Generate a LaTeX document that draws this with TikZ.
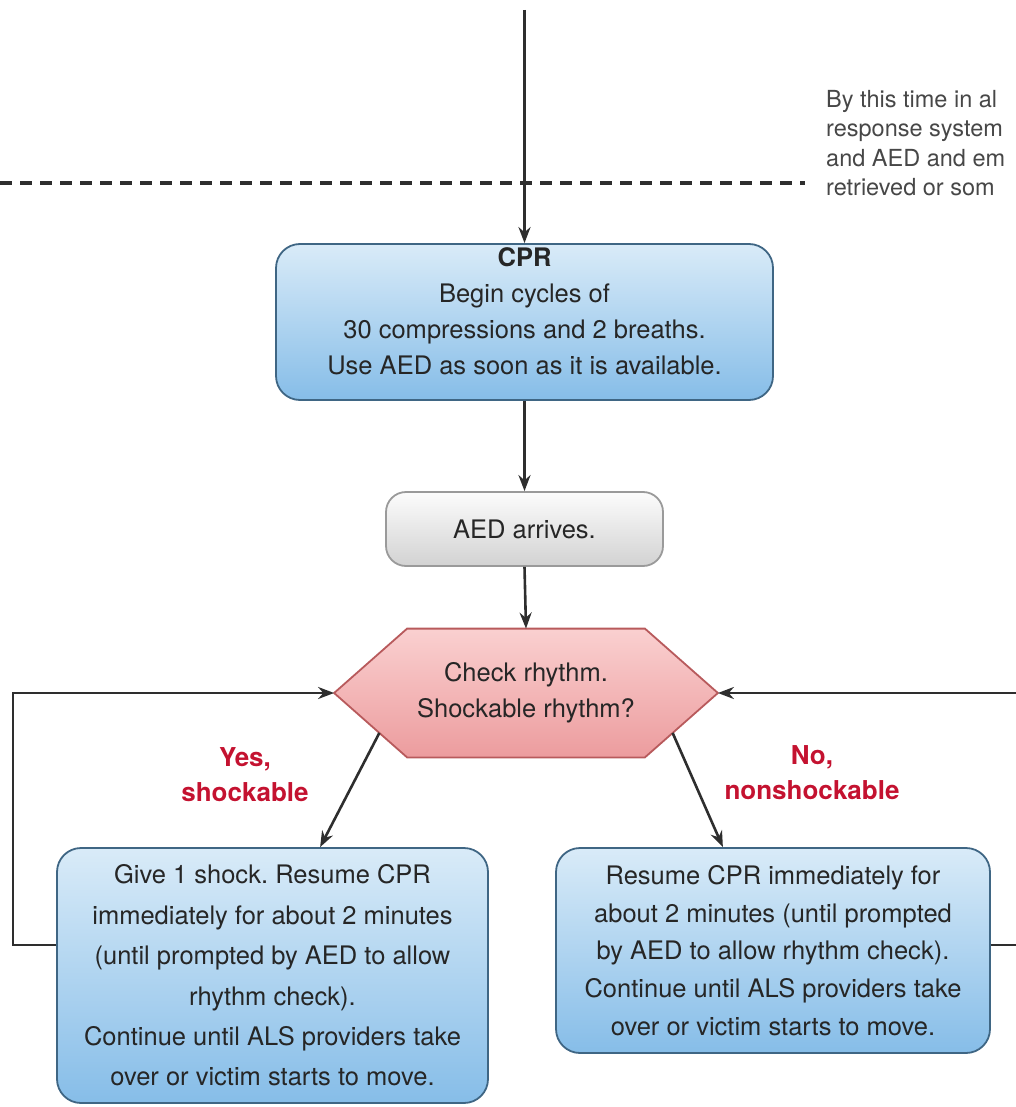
\documentclass[tikz,border=0pt]{standalone}
\usepackage{fontspec}
\setmainfont{TeX Gyre Heros}
\frenchspacing
\usetikzlibrary{arrows.meta,calc,backgrounds}
\definecolor{txtgray}{HTML}{262626}
\definecolor{linegray}{HTML}{2E2E2E}
\definecolor{bluetop}{HTML}{D9EBF8}
\definecolor{bluebot}{HTML}{86BDE8}
\definecolor{blueedge}{HTML}{3F6684}
\definecolor{graytop}{HTML}{FCFCFC}
\definecolor{graybot}{HTML}{D2D2D2}
\definecolor{grayedge}{HTML}{9A9A9A}
\definecolor{pinktop}{HTML}{FAD0D0}
\definecolor{pinkbot}{HTML}{EC9C9E}
\definecolor{pinkedge}{HTML}{B85A5C}
\definecolor{labelred}{HTML}{C41230}
\begin{document}
\begin{tikzpicture}[x=1pt,y=-1pt,
  line/.style={draw=linegray,line width=2.6pt},
  arr/.style={line,-{Stealth[length=16pt,width=12pt]}},
  box/.style={align=center,text=txtgray,line width=1.8pt},
  bluebox/.style={box,draw=blueedge,rounded corners=24pt,top color=bluetop,bottom color=bluebot},
  graybox/.style={box,draw=grayedge,rounded corners=20pt,top color=graytop,bottom color=graybot},
  hexbox/.style={draw=pinkedge,line width=1.8pt,top color=pinktop,bottom color=pinkbot},
  redlabel/.style={align=center,text=labelred,font=\bfseries\fontsize{26}{35}\selectfont}]
  \useasboundingbox (0,0) rectangle (1016,1107);
  \clip (0,0) rectangle (1016,1107);
  % top of the chart
  \coordinate (top) at (524.5,10);
  \coordinate (dashL) at (0,183);
  \coordinate (dashR) at (805,183);
  \draw[draw=linegray,line width=3.2pt,dash pattern=on 12pt off 8pt] (dashL) -- (dashR);
  \node[anchor=north west,align=left,text=txtgray!85,inner sep=0pt,
        font=\fontsize{23.5}{29.5}\selectfont] (note) at (826,90)
    {By this time in al\\response system\\and AED and em\\retrieved or som};
  \node[bluebox,minimum width=497pt,minimum height=156pt,
        font=\fontsize{25.5}{36}\selectfont] (cpr) at (524.5,322)
    {{\bfseries CPR}\\Begin cycles of\\30 compressions and 2 breaths.\\Use AED as soon as it is available.\\[-14pt]\mbox{}};
  \node[graybox,minimum width=277pt,minimum height=74pt,
        font=\fontsize{25.5}{36}\selectfont] (aed) at (524.5,529) {AED arrives.};
  % rhythm check
  \node[box,minimum width=236pt,minimum height=127pt,
        font=\fontsize{25.5}{36}\selectfont] (chk) at (526,693)
    {Check rhythm.\\Shockable rhythm?};
  \coordinate (chkL) at ($(chk.west)+(-73,0)$);
  \coordinate (chkR) at ($(chk.east)+(73,0)$);
  \begin{scope}[on background layer]
    \path[hexbox] (chkL) -- (chk.north west) -- (chk.north east) -- (chkR)
      -- (chk.south east) -- (chk.south west) -- cycle;
  \end{scope}
  \coordinate (chkSW) at ($(chkL)!0.62!(chk.south west)$);
  \coordinate (chkSE) at ($(chkR)!0.62!(chk.south east)$);
  % the two branches
  \node[bluebox,minimum width=431pt,minimum height=255pt,
        font=\fontsize{25.5}{40.4}\selectfont] (shock) at (272.5,975.5)
    {Give 1 shock. Resume CPR\\immediately for about 2 minutes\\(until prompted by AED to allow\\rhythm check).\\Continue until ALS providers take\\over or victim starts to move.};
  \node[bluebox,minimum width=434pt,minimum height=205pt,
        font=\fontsize{25.5}{37.8}\selectfont] (noshock) at (773,950.5)
    {Resume CPR immediately for\\about 2 minutes (until prompted\\by AED to allow rhythm check).\\Continue until ALS providers take\\over or victim starts to move.};
  \node[redlabel] (yes) at (245,775) {Yes,\\shockable};
  \node[redlabel] (no) at (812,773) {No,\\nonshockable};
  % connectors
  \draw[arr] (top) -- (cpr.north);
  \draw[arr] (cpr.south) -- (aed.north);
  \draw[arr] (aed.south) -- (chk.north);
  \draw[arr] (chkSW) -- ($(shock.north west)!0.61!(shock.north east)$);
  \draw[arr] (chkSE) -- ($(noshock.north west)!0.385!(noshock.north east)$);
  \draw[arr] ([yshift=30.5pt]shock.west) -- ++(-43,0) |- (chkL);
  \draw[arr] ([yshift=5.5pt]noshock.east) -- ++(45,0) |- (chkR);
\end{tikzpicture}
\end{document}
